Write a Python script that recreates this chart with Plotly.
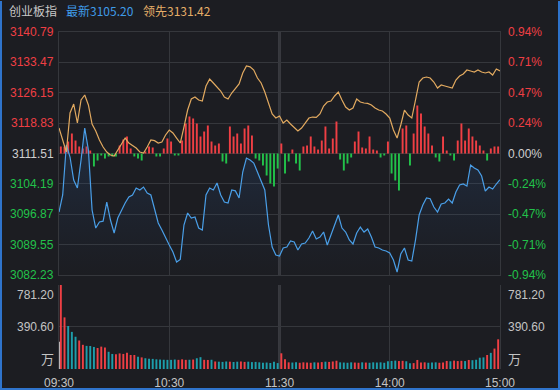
import plotly.graph_objects as go

# ---------------- data ----------------
line_minutes = list(range(0, 241, 2))      # minutes since 09:30 (trading minutes)
bar_minutes = list(range(1, 240, 2))
tick_minutes = [0, 60, 120, 180, 240]
tick_labels = ["09:30", "10:30", "11:30", "14:00", "15:00"]

prev_close = 3111.51
price_ticks = [3140.79, 3133.47, 3126.15, 3118.83, 3111.51, 3104.19, 3096.87, 3089.55, 3082.23]
pct_labels = ["0.94%", "0.71%", "0.47%", "0.24%", "0.00%", "-0.24%", "-0.47%", "-0.71%", "-0.94%"]
vol_ticks = [390.60, 781.20]
vol_labels = ["390.60", "781.20"]

last_price = 3105.20
lead_price = 3131.42

price = [
    3097.41, 3101.51, 3113.56, 3110.66, 3105.12, 3103.19, 3109.94, 3117.65, 3112.35, 3097.89,
    3093.55, 3095.00, 3095.20, 3099.82, 3095.48, 3092.35, 3095.96, 3097.89, 3099.58, 3101.02,
    3101.51, 3103.19, 3102.71, 3103.43, 3101.99, 3101.51, 3097.89, 3094.76, 3093.07, 3091.14,
    3089.46, 3087.77, 3085.36, 3086.00, 3094.28, 3097.17, 3095.96, 3096.20, 3093.55, 3093.07,
    3101.51, 3103.19, 3102.71, 3104.40, 3101.51, 3099.82, 3099.58, 3102.71, 3102.50, 3100.78,
    3107.05, 3110.42, 3109.94, 3109.22, 3107.05, 3104.88, 3102.71, 3094.28, 3088.97, 3087.05,
    3086.81, 3088.73, 3088.97, 3090.42, 3090.18, 3088.25, 3089.70, 3089.94, 3091.14, 3092.83,
    3090.90, 3091.38, 3092.59, 3089.46, 3091.87, 3094.52, 3096.69, 3093.55, 3092.59, 3090.66,
    3089.70, 3092.35, 3093.79, 3092.59, 3093.31, 3091.38, 3088.97, 3088.73, 3088.25, 3088.01,
    3087.53, 3085.84, 3082.95, 3087.29, 3088.73, 3085.84, 3085.60, 3090.66, 3096.69, 3099.10,
    3100.78, 3100.60, 3098.61, 3097.41, 3099.34, 3099.58, 3100.54, 3099.58, 3102.23, 3103.92,
    3104.16, 3103.67, 3108.74, 3108.02, 3107.53, 3106.09, 3102.47, 3103.43, 3102.95, 3104.16,
    3105.20,
]

lead = [
    3117.65, 3114.76, 3111.87, 3121.27, 3123.44, 3118.86, 3124.40, 3125.61, 3123.20, 3118.62,
    3116.93, 3114.76, 3113.07, 3111.87, 3111.15, 3110.91, 3112.35, 3113.56, 3115.24, 3114.04,
    3113.32, 3112.83, 3111.87, 3111.63, 3113.07, 3114.76, 3114.60, 3114.04, 3114.28, 3115.97,
    3117.17, 3116.45, 3115.24, 3114.04, 3117.89, 3121.99, 3124.64, 3125.12, 3124.40, 3124.16,
    3127.78, 3129.46, 3128.50, 3127.53, 3126.57, 3125.12, 3124.64, 3126.09, 3127.05, 3128.26,
    3130.91, 3132.60, 3132.40, 3131.63, 3129.70, 3128.50, 3126.33, 3123.92, 3121.03, 3120.06,
    3120.55, 3118.86, 3119.58, 3118.62, 3117.89, 3116.93, 3117.65, 3118.86, 3120.06, 3120.30,
    3120.20, 3121.03, 3122.96, 3123.92, 3124.16, 3125.37, 3126.33, 3124.40, 3122.71, 3121.99,
    3122.47, 3124.64, 3123.92, 3123.68, 3123.60, 3123.20, 3122.47, 3121.99, 3121.75, 3121.03,
    3120.06, 3117.17, 3115.24, 3118.38, 3121.99, 3120.79, 3120.06, 3124.40, 3128.74, 3129.70,
    3129.94, 3129.70, 3128.74, 3127.29, 3128.02, 3127.78, 3127.53, 3127.29, 3129.22, 3130.19,
    3130.67, 3131.63, 3131.39, 3131.15, 3131.63, 3131.15, 3130.91, 3131.15, 3130.43, 3131.87,
    3131.42,
]

# buy/sell strength bars, in index points from the previous close
strength = [
    1.69, 1.69, 2.89, 4.82, 3.13, 1.69, 1.21, 1.69, 0.72, -3.13,
    -1.69, -0.48, -1.21, -0.72, -0.72, -0.72, 1.93, 3.37, 4.10, 1.21,
    -0.72, -1.21, -1.69, 0.48, 1.69, 1.45, -0.72, -0.72, 1.21, 3.62,
    2.89, -0.48, -0.48, 3.13, 7.23, 8.92, 8.44, 7.23, 4.10, 5.30,
    6.75, 2.89, 1.93, 2.41, -1.93, -2.41, 6.51, 4.10, 4.82, 2.41,
    6.03, 6.75, 4.34, -1.21, -1.69, -2.89, -5.30, -7.23, -7.95, -3.62,
    2.41, -4.82, -1.93, 0.96, -2.41, -4.10, 1.69, 1.93, 4.10, 1.69,
    0.96, 3.13, 6.51, 1.21, 3.62, 7.71, -1.45, -4.10, -2.41, -0.96,
    2.89, 5.30, 1.45, 1.21, 4.10, 0.96, 0.72, -0.96, -0.48, 2.89,
    -4.82, -6.51, -8.92, 6.03, 6.75, -2.89, 4.82, 11.57, 9.64, 6.51,
    4.82, 1.93, -0.96, -1.93, 4.10, 0.72, -0.48, -1.69, 3.13, 7.23,
    3.13, 6.03, 4.10, 3.13, 1.93, 0.72, -1.69, 1.21, 1.69, 1.69,
]

# volume (万)
volume = [
    781, 480, 400, 345, 300, 265, 225, 215, 214, 205,
    195, 208, 200, 160, 140, 138, 145, 140, 150, 130,
    130, 115, 108, 100, 96, 94, 90, 88, 86, 85,
    85, 88, 85, 90, 85, 86, 88, 100, 110, 85,
    84, 86, 70, 68, 66, 70, 68, 65, 68, 70,
    66, 68, 64, 66, 62, 58, 60, 56, 68, 55,
    146, 90, 62, 60, 62, 58, 62, 60, 58, 62,
    60, 64, 68, 66, 70, 77, 62, 60, 58, 62,
    60, 58, 62, 60, 58, 62, 60, 62, 58, 72,
    75, 78, 74, 76, 72, 53, 55, 84, 60, 62,
    58, 60, 62, 58, 60, 75, 72, 78, 74, 76,
    74, 84, 82, 86, 105, 108, 130, 150, 190, 276,
]
auction_minute = [0]
auction_volume = [254]

# ---------------- styles ----------------
BG = "#1c1d22"
GRID = "#35373c"
RED = "#ef3f44"
GREEN = "#22c24a"
TEAL = "#1d9eab"
NEUTRAL = "#cfcfcf"
AX_TXT = "#c4c4c4"
BLUE = "#4a9fe8"
ORANGE = "#e2aa60"
FONT = "Liberation Sans, Arial, Noto Sans CJK SC, sans-serif"
CJK = "Noto Sans CJK SC, sans-serif"

fig = go.Figure()

# strength bars (base at previous close)
fig.add_trace(go.Bar(
    x=bar_minutes, y=strength, base=prev_close,
    marker=dict(color=[RED if v >= 0 else GREEN for v in strength], line=dict(width=0)),
    width=1.05, xaxis="x", yaxis="y", hoverinfo="skip", showlegend=False,
))

# baseline for the area fill under the price line
fig.add_trace(go.Scatter(
    x=line_minutes, y=[price_ticks[-1]] * len(line_minutes), mode="lines",
    line=dict(width=0, color="rgba(0,0,0,0)"), xaxis="x", yaxis="y",
    hoverinfo="skip", showlegend=False,
))
fig.add_trace(go.Scatter(
    x=line_minutes, y=price, mode="lines",
    line=dict(color=BLUE, width=1.2), fill="tonexty",
    fillgradient=dict(type="vertical",
                      colorscale=[[0, "rgba(40,80,140,0.0)"], [1, "rgba(50,105,180,0.22)"]]),
    xaxis="x", yaxis="y", hoverinfo="skip", showlegend=False,
))
fig.add_trace(go.Scatter(
    x=line_minutes, y=lead, mode="lines",
    line=dict(color=ORANGE, width=1.2), xaxis="x", yaxis="y",
    hoverinfo="skip", showlegend=False,
))

# volume bars, coloured by the direction of the price over the bar interval
vol_colors = [RED if price[i + 1] >= price[i] else TEAL for i in range(len(volume))]
fig.add_trace(go.Bar(
    x=bar_minutes, y=volume, marker=dict(color=vol_colors, line=dict(width=0)),
    width=1.05, xaxis="x2", yaxis="y2", hoverinfo="skip", showlegend=False,
))
fig.add_trace(go.Bar(
    x=auction_minute, y=auction_volume, marker=dict(color="#e8e8e8", line=dict(width=0)),
    width=0.8, xaxis="x2", yaxis="y2", hoverinfo="skip", showlegend=False,
))

main_dom = [0.2789, 1.0]
vol_dom = [0.0, 0.2493]

axis_common = dict(showgrid=True, gridcolor=GRID, gridwidth=1, zeroline=False,
                   fixedrange=True, automargin=False)
fig.update_layout(
    width=560, height=390,
    margin=dict(l=59, r=60, t=32, b=21, pad=0, autoexpand=False),
    paper_bgcolor=BG, plot_bgcolor=BG,
    barmode="overlay", showlegend=False,
    font=dict(family=FONT, size=12, color=AX_TXT),
    xaxis=dict(domain=[0, 1], anchor="y", range=[0, 240], tickvals=tick_minutes,
               showticklabels=False, ticks="", showline=True, linecolor=GRID, mirror=True,
               **axis_common),
    yaxis=dict(domain=main_dom, anchor="x", range=[price_ticks[-1], price_ticks[0]],
               tickvals=price_ticks, showticklabels=False, ticks="",
               showline=True, linecolor=GRID, mirror=True, **axis_common),
    xaxis2=dict(domain=[0, 1], anchor="y2", range=[0, 240], matches="x",
                tickvals=tick_minutes, ticktext=tick_labels, ticks="outside",
                ticklen=3, tickcolor=BG,
                tickfont=dict(family=FONT, size=12, color=AX_TXT),
                showline=False, **axis_common),
    yaxis2=dict(domain=vol_dom, anchor="x2", range=[0, vol_ticks[-1]],
                tickvals=vol_ticks, showticklabels=False, ticks="",
                showline=True, linecolor=GRID, mirror=True, **axis_common),
)

# thicker midday separator at 11:30 / 13:00
for yr in ["y domain", "y2 domain"]:
    fig.add_shape(type="line", xref="x", yref=yr, x0=tick_minutes[2], x1=tick_minutes[2],
                  y0=0, y1=1, line=dict(color="#55575c", width=2), layer="below")

ann = []
# price / percent labels
for p, pl in zip(price_ticks, pct_labels):
    col = RED if p > prev_close else (GREEN if p < prev_close else NEUTRAL)
    ann.append(dict(xref="paper", yref="y", x=0, y=p, xshift=-3, xanchor="right",
                    yanchor="middle", text=f"{p:.2f}", showarrow=False,
                    font=dict(family=FONT, size=12, color=col)))
    ann.append(dict(xref="paper", yref="y", x=1, y=p, xshift=6, xanchor="left",
                    yanchor="middle", text=pl, showarrow=False,
                    font=dict(family=FONT, size=12, color=col)))

# volume labels
for side, xv, xa, xs in [("l", 0, "right", -3), ("r", 1, "left", 6)]:
    ann.append(dict(xref="paper", yref="y2", x=xv, y=vol_ticks[1], xshift=xs, yshift=-1,
                    xanchor=xa, yanchor="top", text=vol_labels[1], showarrow=False,
                    font=dict(family=FONT, size=12, color=AX_TXT)))
    ann.append(dict(xref="paper", yref="y2", x=xv, y=vol_ticks[0], xshift=xs,
                    xanchor=xa, yanchor="middle", text=vol_labels[0], showarrow=False,
                    font=dict(family=FONT, size=12, color=AX_TXT)))
    ann.append(dict(xref="paper", yref="y2", x=xv, y=0, xshift=xs, yshift=-1,
                    xanchor=xa, yanchor="bottom", text="万", showarrow=False,
                    font=dict(family=CJK, size=13, color=AX_TXT)))

# header
hy = (369 - 11) / 337
ann.append(dict(xref="paper", yref="paper", x=(7 - 59) / 441, y=hy, xanchor="left",
                yanchor="middle", text="创业板指", showarrow=False,
                font=dict(family=CJK, size=12, color="#c8c8c8")))
ann.append(dict(xref="paper", yref="paper", x=(64 - 59) / 441, y=hy, xanchor="left",
                yanchor="middle", text=f"最新{last_price:.2f}", showarrow=False,
                font=dict(family=CJK, size=12, color="#3f9be8")))
ann.append(dict(xref="paper", yref="paper", x=(141 - 59) / 441, y=hy, xanchor="left",
                yanchor="middle", text=f"领先{lead_price:.2f}", showarrow=False,
                font=dict(family=CJK, size=12, color="#e5ae68")))
fig.update_layout(annotations=ann)

# window border (blue) on left, bottom and right
BORDER = "#2f74cc"
fig.add_shape(type="line", xref="paper", yref="paper", x0=-58 / 441, x1=-58 / 441,
              y0=-20.5 / 337, y1=368 / 337, line=dict(color=BORDER, width=2))
fig.add_shape(type="line", xref="paper", yref="paper", x0=-59 / 441, x1=501 / 441,
              y0=-20 / 337, y1=-20 / 337, line=dict(color=BORDER, width=2))
fig.add_shape(type="line", xref="paper", yref="paper", x0=500 / 441, x1=500 / 441,
              y0=-20.5 / 337, y1=368 / 337, line=dict(color=BORDER, width=2))

fig.write_html("out.html",
               config={"displayModeBar": False, "staticPlot": True},
               post_script="document.body.style.margin='0';document.body.style.padding='0';"
                           "document.body.style.overflow='hidden';"
                           "document.body.style.background='" + BG + "';")
